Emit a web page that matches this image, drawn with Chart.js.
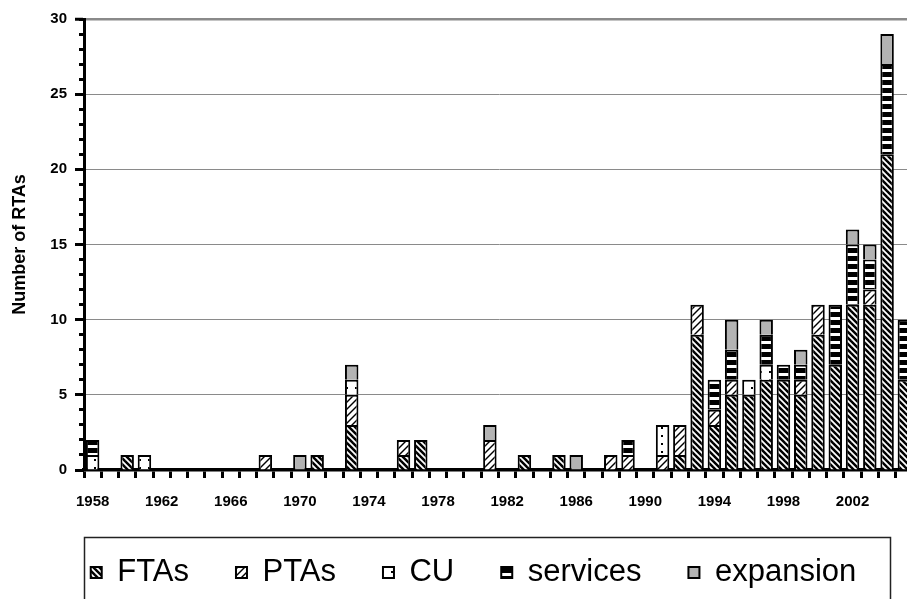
<!DOCTYPE html>
<html>
<head>
<meta charset="utf-8">
<script src="https://cdn.jsdelivr.net/npm/chart.js@4.4.1/dist/chart.umd.min.js"></script>
<style>
  html, body { margin: 0; padding: 0; background: #fff; overflow: hidden; width: 907px; height: 599px; }
  #wrap { position: absolute; left: 0; top: 0; width: 947px; height: 600px; }
</style>
</head>
<body>
<div id="wrap"><canvas id="c" width="947" height="600"></canvas></div>
<script>
// Regional trade agreements notified per year, by type
const years = ['1958','1959','1960','1961','1962','1963','1964','1965','1966','1967',
               '1968','1969','1970','1971','1972','1973','1974','1975','1976','1977',
               '1978','1979','1980','1981','1982','1983','1984','1985','1986','1987',
               '1988','1989','1990','1991','1992','1993','1994','1995','1996','1997',
               '1998','1999','2000','2001','2002','2003','2004','2005'];

const ftas      = [0,0,1,0,0,0,0,0,0,0, 0,0,0,1,0,3,0,0,1,2, 0,0,0,0,0,1,0,1,0,0, 0,0,0,0,1,9,3,5,5,6, 6,5,9,7,11,11,21,6];
const ptas      = [0,0,0,0,0,0,0,0,0,0, 1,0,0,0,0,2,0,0,1,0, 0,0,0,2,0,0,0,0,0,0, 1,1,0,1,2,2,1,1,0,0, 0,1,2,0,0,1,0,0];
const cu        = [1,0,0,1,0,0,0,0,0,0, 0,0,0,0,0,1,0,0,0,0, 0,0,0,0,0,0,0,0,0,0, 0,0,0,2,0,0,0,0,1,1, 0,0,0,0,0,0,0,0];
const services  = [1,0,0,0,0,0,0,0,0,0, 0,0,0,0,0,0,0,0,0,0, 0,0,0,0,0,0,0,0,0,0, 0,1,0,0,0,0,2,2,0,2, 1,1,0,4,4,2,6,4];
const expansion = [0,0,0,0,0,0,0,0,0,0, 0,0,1,0,0,1,0,0,0,0, 0,0,0,1,0,0,0,0,1,0, 0,0,0,0,0,0,0,2,0,1, 0,1,0,0,1,1,2,0];

const seriesNames = ['FTAs', 'PTAs', 'CU', 'services', 'expansion'];
const yTicks = { min: 0, max: 30, step: 5 };

// ---- fill patterns -------------------------------------------------------
function makePattern(w, h, draw) {
  const c = document.createElement('canvas');
  c.width = w; c.height = h;
  const g = c.getContext('2d');
  g.fillStyle = '#fff';
  g.fillRect(0, 0, w, h);
  draw(g, w, h);
  return g.createPattern(c, 'repeat');
}
const ftaFill = makePattern(6, 6, (g, w, h) => {        // dense back-slash hatch
  g.strokeStyle = '#000'; g.lineWidth = 2.5;
  for (let k = -1; k <= 1; k++) {
    g.beginPath(); g.moveTo(-1, -1 + k * h); g.lineTo(w + 1, h + 1 + k * h); g.stroke();
  }
});
const ptaFill = makePattern(7, 7, (g, w, h) => {        // light forward-slash hatch
  g.strokeStyle = '#000'; g.lineWidth = 1.4;
  for (let k = -1; k <= 1; k++) {
    g.beginPath(); g.moveTo(-1, h + 1 + k * h); g.lineTo(w + 1, -1 + k * h); g.stroke();
  }
});
const cuFill = makePattern(9, 8, (g) => {               // sparse dots
  g.fillStyle = '#000'; g.fillRect(4, 3, 2, 2);
});
const svcFill = makePattern(4, 8, (g, w) => {           // horizontal bands
  g.fillStyle = '#000'; g.fillRect(0, 0, w, 5);
});
const expFill = '#b3b3b3';

const fills = [ftaFill, ptaFill, cuFill, svcFill, expFill];
const values = [ftas, ptas, cu, services, expansion];

const datasets = seriesNames.map((name, i) => ({
  label: name,
  data: values[i].map(v => (v ? v : null)),
  backgroundColor: fills[i],
  borderColor: '#000',
  borderWidth: 2,
  barPercentage: 0.78,
  categoryPercentage: 1.0,
  stack: 'rta'
}));

// frame around the legend row
const legendFrame = {
  id: 'legendFrame',
  afterDraw(chart) {
    const { ctx, chartArea, legend } = chart;
    ctx.save();
    ctx.strokeStyle = '#222';
    ctx.lineWidth = 1.5;
    ctx.strokeRect(chartArea.left + 0.5, legend.top + 27.5, 806, 200);
    ctx.restore();
  }
};

const tickFont = { family: "'Liberation Sans', Arial, sans-serif", weight: 'bold', size: 15 };
const titleFont = { family: "'Liberation Sans', Arial, sans-serif", weight: 'bold', size: 18 };

new Chart(document.getElementById('c'), {
  type: 'bar',
  data: { labels: years, datasets },
  plugins: [legendFrame],
  options: {
    responsive: false,
    animation: false,
    devicePixelRatio: 1,
    layout: { padding: { top: 19, left: 0, right: 0, bottom: 2 } },
    plugins: {
      tooltip: { enabled: false },
      legend: {
        position: 'bottom',
        labels: {
          font: { family: "'Liberation Sans', Arial, sans-serif", size: 31 },
          color: '#000',
          boxWidth: 11,
          boxHeight: 11,
          padding: 47
        }
      }
    },
    scales: {
      x: {
        stacked: true,
        offset: true,
        grid: { display: true, offset: true, drawOnChartArea: false, drawTicks: true,
                tickLength: 8, tickColor: '#000', tickWidth: 3 },
        border: { display: true, color: '#000', width: 3.5 },
        ticks: {
          autoSkip: false, maxRotation: 0, minRotation: 0, padding: 15,
          color: '#000', font: tickFont,
          callback: function (v, i) { return i % 4 === 0 ? this.getLabelForValue(v) : ''; }
        },
        afterFit: s => { s.height = 40; }
      },
      y: {
        stacked: true,
        position: 'left',
        weight: 2,
        min: yTicks.min, max: yTicks.max,
        ticks: { stepSize: yTicks.step, padding: 8, color: '#000', font: tickFont },
        grid: {
          color: '#8a8a8a',
          lineWidth: c => (c.tick && c.tick.value === yTicks.max ? 2.5 : 1),
          tickColor: '#000', tickWidth: 3, tickLength: 9
        },
        border: { display: true, color: '#000', width: 3 },
        title: { display: true, text: 'Number of RTAs', color: '#000', font: titleFont,
                 padding: { top: 9, bottom: 0 } },
        afterFit: s => { s.width = 84; }
      },
      yMinor: {
        position: 'left',
        weight: 1,
        min: yTicks.min, max: yTicks.max,
        ticks: { display: false, stepSize: 1 },
        grid: { drawOnChartArea: false, drawTicks: true, tickLength: 5, tickColor: '#000', tickWidth: 3 },
        border: { display: false },
        afterFit: s => { s.width = 0; }
      },
      yRight: {
        position: 'right',
        display: true,
        ticks: { display: false },
        grid: { display: false },
        border: { display: false },
        afterFit: s => { s.width = 34; }
      }
    }
  }
});
</script>
</body>
</html>
